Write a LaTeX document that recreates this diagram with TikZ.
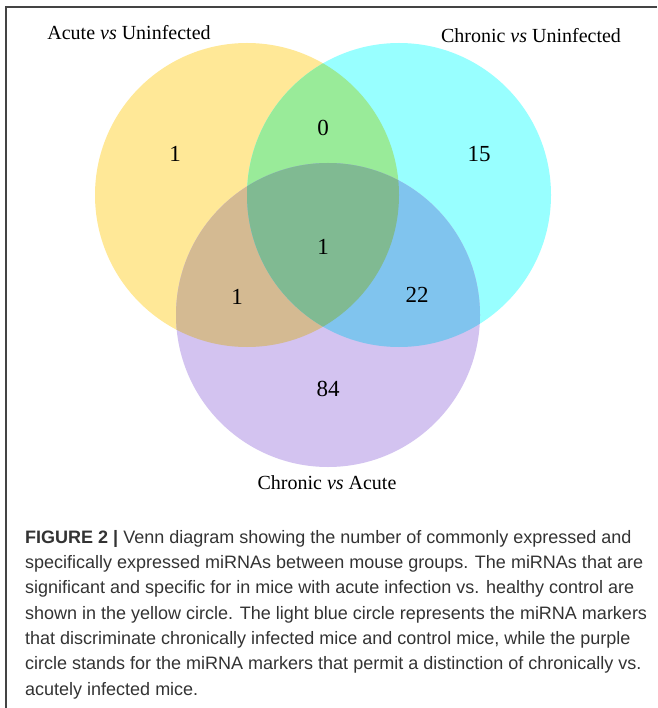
\documentclass[tikz,border=0pt]{standalone}
\usepackage{fontspec}
\setmainfont{Liberation Serif}
\newfontfamily\capfont{Liberation Sans}
\definecolor{ycol}{HTML}{FFE897}
\definecolor{ccol}{HTML}{98FFFF}
\definecolor{pcol}{HTML}{D3C3F0}
\definecolor{ycgreen}{HTML}{99EB99}
\definecolor{yptan}{HTML}{D4BA92}
\definecolor{cpblue}{HTML}{80C4EE}
\definecolor{allcol}{HTML}{80BA92}
\definecolor{captext}{HTML}{333333}
\definecolor{framecol}{HTML}{444444}
\tikzset{
  setlabel/.style={font=\fontsize{20}{24}\selectfont, text=black, inner sep=0pt},
  countlabel/.style={font=\fontsize{23}{27}\selectfont, text=black, inner sep=0pt},
  capline/.style={font=\capfont\fontsize{18}{22}\selectfont, text=captext, anchor=base west, inner sep=0pt},
}
\begin{document}
\begin{tikzpicture}[x=1pt,y=-1pt]
\useasboundingbox (0,0) rectangle (657,708);
\coordinate (Y) at (247,195);
\coordinate (C) at (399,195);
\coordinate (P) at (328,315);
\def\rr{152pt}
% base circles
\fill[ycol] (Y) circle (\rr);
\fill[ccol] (C) circle (\rr);
\fill[pcol] (P) circle (\rr);
% overlaps
\begin{scope}\clip (Y) circle (\rr); \fill[ycgreen] (C) circle (\rr);\end{scope}
\begin{scope}\clip (Y) circle (\rr); \fill[yptan] (P) circle (\rr);\end{scope}
\begin{scope}\clip (C) circle (\rr); \fill[cpblue] (P) circle (\rr);\end{scope}
\begin{scope}\clip (Y) circle (\rr); \clip (C) circle (\rr); \fill[allcol] (P) circle (\rr);\end{scope}
% set labels
\node[setlabel] (la) at (129,33) {Acute \textit{vs} Uninfected};
\node[setlabel] (lc) at (531,36) {Chronic \textit{vs} Uninfected};
\node[setlabel] (lp) at (327,483) {Chronic \textit{vs} Acute};
% counts
\node[countlabel] (n1) at (175,154) {1};
\node[countlabel] (n2) at (323,128) {0};
\node[countlabel] (n3) at (479,154) {15};
\node[countlabel] (n4) at (323,247) {1};
\node[countlabel] (n5) at (237,297) {1};
\node[countlabel] (n6) at (417,295) {22};
\node[countlabel] (n7) at (328,389) {84};
% frame
\coordinate (f1) at (6,708);
\coordinate (f2) at (6,7);
\coordinate (f3) at (657,7);
\draw[framecol, line width=1.3pt] (f1) -- (f2) -- (f3);
% caption
\node[capline] (c1) at (25,543) {\textbf{FIGURE 2 |} Venn diagram showing the number of commonly expressed and};
\node[capline] (c2) at (25,568) {specifically expressed miRNAs between mouse groups. The miRNAs that are};
\node[capline] (c3) at (25,593) {significant and specific for in mice with acute infection vs. healthy control are};
\node[capline] (c4) at (25,619) {shown in the yellow circle. The light blue circle represents the miRNA markers};
\node[capline] (c5) at (25,644) {that discriminate chronically infected mice and control mice, while the purple};
\node[capline] (c6) at (25,669) {circle stands for the miRNA markers that permit a distinction of chronically vs.};
\node[capline] (c7) at (25,695) {acutely infected mice.};
\end{tikzpicture}
\end{document}
